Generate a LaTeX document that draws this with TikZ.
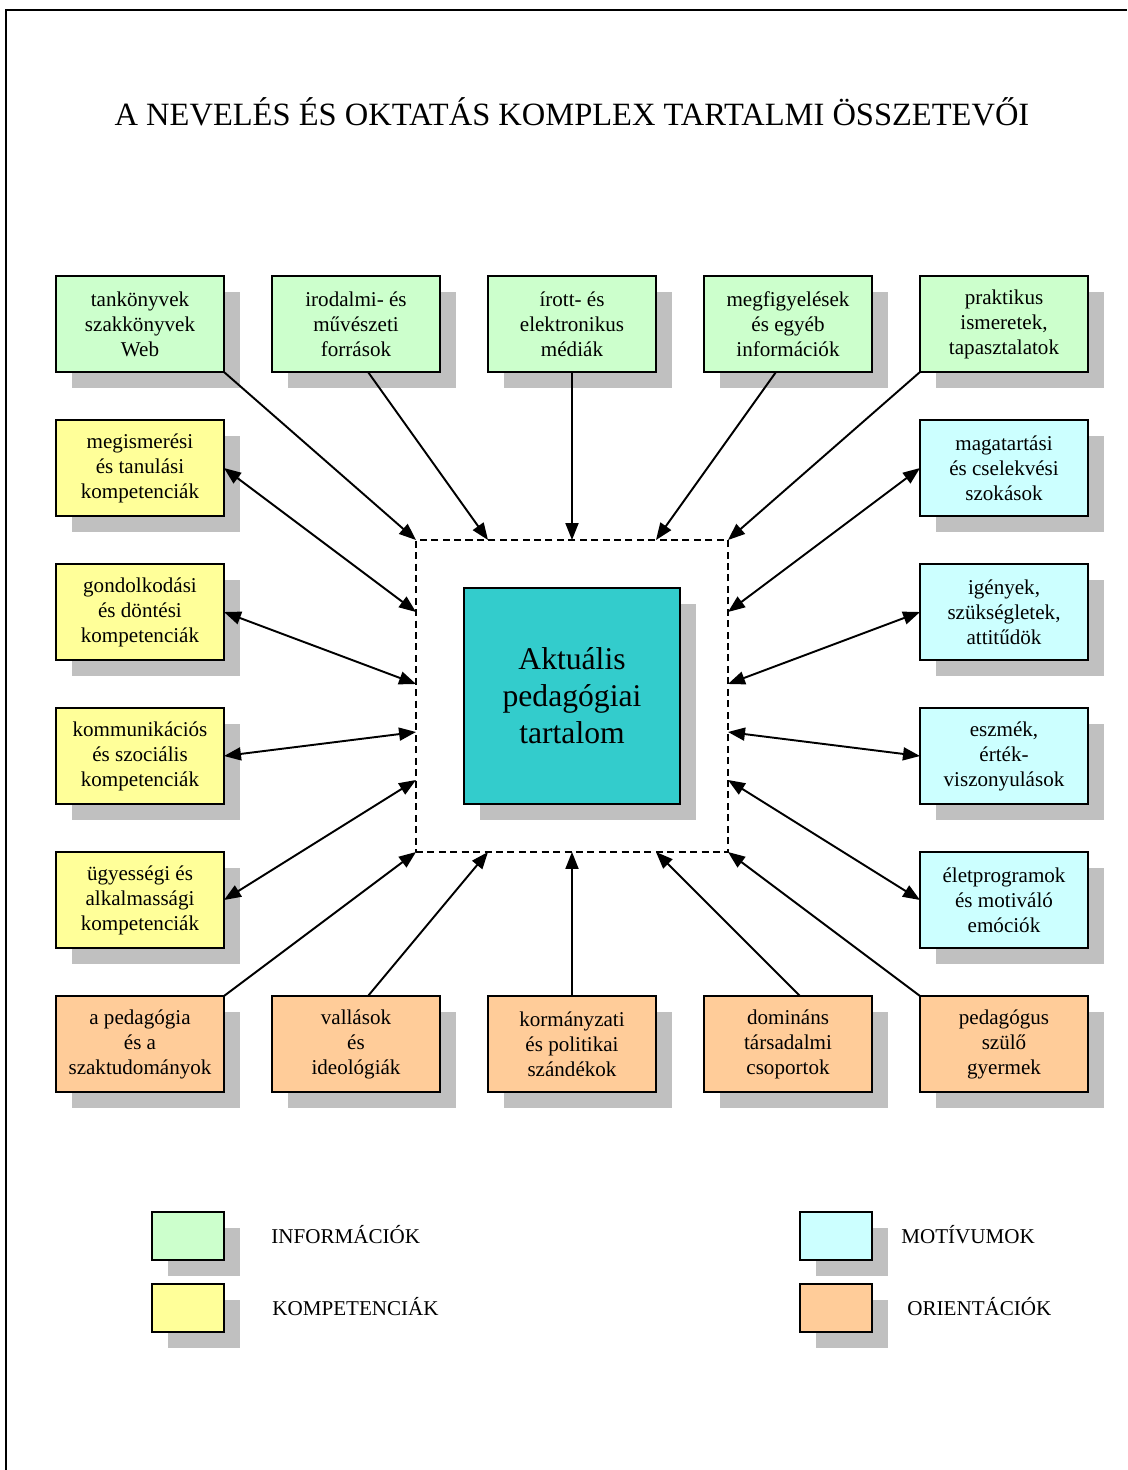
\documentclass[tikz,border=0pt]{standalone}
\usepackage{fontspec}
\setmainfont{Liberation Serif}
\usepackage{xcolor}
\usepackage{tikz}
\usetikzlibrary{positioning,calc,shadows,arrows.meta}
\definecolor{infocol}{HTML}{CCFFCC}
\definecolor{kompcol}{HTML}{FFFF99}
\definecolor{motcol}{HTML}{CCFFFF}
\definecolor{oricol}{HTML}{FFCC99}
\definecolor{aktcol}{HTML}{33CCCC}
\definecolor{arnyek}{HTML}{C0C0C0}
\pgfkeys{tikz/doboz/.style={draw,line width=1.1pt,minimum width=3.36cm,minimum height=1.92cm,inner sep=0pt,outer sep=0pt,align=center,font=\fontsize{12}{14.2}\selectfont,drop shadow={shadow xshift=0.32cm,shadow yshift=-0.32cm,fill=arnyek,opacity=1}}}
\pgfkeys{tikz/jel/.style={doboz,minimum width=1.44cm,minimum height=0.96cm}}
\pgfkeys{tikz/nyil/.style={line width=1.1pt,-{Triangle[length=0.34cm,width=0.26cm]}}}
\pgfkeys{tikz/kettos/.style={line width=1.1pt,{Triangle[length=0.34cm,width=0.26cm]}-{Triangle[length=0.34cm,width=0.26cm]}}}

\begin{document}
\begin{tikzpicture}[x=0.02cm,y=-0.02cm]
  \useasboundingbox (0,0) rectangle (1127,1470);
  \draw[line width=1.1pt] (6,1470) -- (6,10) -- (1127,10);
  \node[font=\fontsize{18.5}{21}\selectfont] (cim) at (572,112) {A NEVELÉS ÉS OKTATÁS KOMPLEX TARTALMI ÖSSZETEVŐI};

  \node[draw,dash pattern=on 4pt off 2.5pt,line width=0.9pt,minimum size=6.24cm,inner sep=0pt,outer sep=0pt] (keret) at (572,696) {};
  \node[doboz,fill=aktcol,minimum size=4.32cm,font=\fontsize{18}{21}\selectfont] (akt) at (572,696) {Aktuális\\pedagógiai\\tartalom};

  \node[doboz,fill=infocol] (tank) at (140,324) {tankönyvek\\szakkönyvek\\Web};
  \node[doboz,fill=infocol] (irod) at (356,324) {irodalmi- és\\művészeti\\források};
  \node[doboz,fill=infocol] (irott) at (572,324) {írott- és\\elektronikus\\médiák};
  \node[doboz,fill=infocol] (megf) at (788,324) {megfigyelések\\és egyéb\\információk};
  \node[doboz,fill=infocol] (prak) at (1004,324) {praktikus\\ismeretek,\\tapasztalatok};

  \node[doboz,fill=kompcol] (megism) at (140,468) {megismerési\\és tanulási\\kompetenciák};
  \node[doboz,fill=kompcol] (gond) at (140,612) {gondolkodási\\és döntési\\kompetenciák};
  \node[doboz,fill=kompcol] (komm) at (140,756) {kommunikációs\\és szociális\\kompetenciák};
  \node[doboz,fill=kompcol] (ugy) at (140,900) {ügyességi és\\alkalmassági\\kompetenciák};

  \node[doboz,fill=motcol] (magat) at (1004,468) {magatartási\\és cselekvési\\szokások};
  \node[doboz,fill=motcol] (igeny) at (1004,612) {igények,\\szükségletek,\\attitűdök};
  \node[doboz,fill=motcol] (eszm) at (1004,756) {eszmék,\\érték-\\viszonyulások};
  \node[doboz,fill=motcol] (elet) at (1004,900) {életprogramok\\és motiváló\\emóciók};

  \node[doboz,fill=oricol] (szaktud) at (140,1044) {a pedagógia\\és a\\szaktudományok};
  \node[doboz,fill=oricol] (vall) at (356,1044) {vallások\\és\\ideológiák};
  \node[doboz,fill=oricol] (korm) at (572,1044) {kormányzati\\és politikai\\szándékok};
  \node[doboz,fill=oricol] (domin) at (788,1044) {domináns\\társadalmi\\csoportok};
  \node[doboz,fill=oricol] (szulo) at (1004,1044) {pedagógus\\szülő\\gyermek};

  \draw[nyil] (tank.south east) -- (keret.north west);
  \draw[nyil] ($(irod.south)+(12,0)$) -- ($(keret.north west)!.2308!(keret.north east)$);
  \draw[nyil] (irott) -- (keret.north);
  \draw[nyil] ($(megf.south)+(-12,0)$) -- ($(keret.north east)!.2308!(keret.north west)$);
  \draw[nyil] (prak.south west) -- (keret.north east);

  \draw[kettos] (megism.east) -- ($(keret.north west)!.2308!(keret.south west)$);
  \draw[kettos] (gond.east) -- ($(keret.north west)!.4615!(keret.south west)$);
  \draw[kettos] (komm.east) -- ($(keret.north west)!.6154!(keret.south west)$);
  \draw[kettos] (ugy.east) -- ($(keret.north west)!.7692!(keret.south west)$);

  \draw[kettos] (magat.west) -- ($(keret.north east)!.2308!(keret.south east)$);
  \draw[kettos] (igeny.west) -- ($(keret.north east)!.4615!(keret.south east)$);
  \draw[kettos] (eszm.west) -- ($(keret.north east)!.6154!(keret.south east)$);
  \draw[kettos] (elet.west) -- ($(keret.north east)!.7692!(keret.south east)$);

  \draw[nyil] (szaktud.north east) -- (keret.south west);
  \draw[nyil] ($(vall.north)+(12,0)$) -- ($(keret.south west)!.2308!(keret.south east)$);
  \draw[nyil] (korm) -- (keret.south);
  \draw[nyil] ($(domin.north)+(12,0)$) -- ($(keret.south east)!.2308!(keret.south west)$);
  \draw[nyil] (szulo.north west) -- (keret.south east);

  \node[jel,fill=infocol] (jinfo) at (188,1236) {};
  \node[jel,fill=kompcol] (jkomp) at (188,1308) {};
  \node[jel,fill=motcol] (jmot) at (836,1236) {};
  \node[jel,fill=oricol] (jori) at (836,1308) {};
  \node[anchor=west,inner sep=0pt,font=\fontsize{12}{14}\selectfont] (tinfo) at (271,1235) {INFORMÁCIÓK};
  \node[anchor=west,inner sep=0pt,font=\fontsize{12}{14}\selectfont] (tkomp) at (272,1307) {KOMPETENCIÁK};
  \node[anchor=west,inner sep=0pt,font=\fontsize{12}{14}\selectfont] (tmot) at (901,1235) {MOTÍVUMOK};
  \node[anchor=west,inner sep=0pt,font=\fontsize{12}{14}\selectfont] (tori) at (907,1307) {ORIENTÁCIÓK};
\end{tikzpicture}
\end{document}
